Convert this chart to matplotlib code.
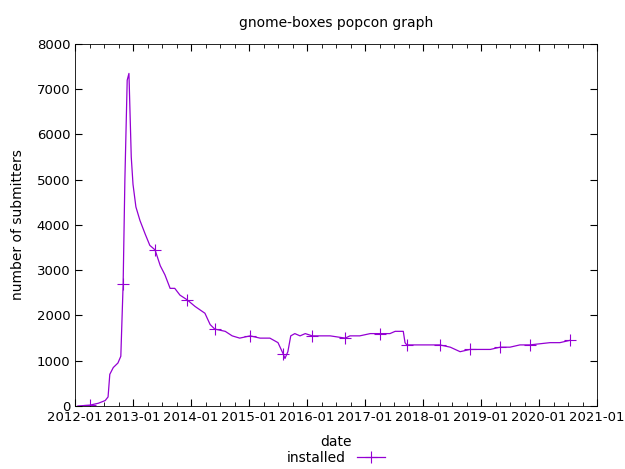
import matplotlib
matplotlib.use("Agg")
import matplotlib.pyplot as plt
import numpy as np

# fractional year, number of submitters
years = [2012.05, 2012.26, 2012.40, 2012.52, 2012.57, 2012.60, 2012.66, 2012.74, 2012.79,
         2012.83, 2012.86, 2012.90, 2012.93, 2012.97, 2013.00, 2013.05, 2013.12, 2013.21,
         2013.29, 2013.38, 2013.47, 2013.55, 2013.64, 2013.72, 2013.81, 2013.93, 2014.07,
         2014.24, 2014.33, 2014.41, 2014.59, 2014.71, 2014.84, 2015.02, 2015.19, 2015.36,
         2015.50, 2015.59, 2015.62, 2015.67, 2015.72, 2015.79, 2015.88, 2015.97, 2016.09,
         2016.22, 2016.40, 2016.66, 2016.74, 2016.91, 2017.09, 2017.26, 2017.43, 2017.52,
         2017.66, 2017.69, 2017.72, 2017.95, 2018.29, 2018.47, 2018.64, 2018.81, 2019.16,
         2019.33, 2019.50, 2019.67, 2019.84, 2020.19, 2020.36, 2020.53]
installed = [0, 20, 60, 120, 200, 700, 850, 950, 1100,
             2700, 5000, 7200, 7350, 5500, 4900, 4400, 4100, 3800,
             3550, 3450, 3100, 2900, 2600, 2600, 2450, 2350, 2200,
             2050, 1800, 1700, 1650, 1550, 1500, 1550, 1500, 1500,
             1400, 1150, 1050, 1200, 1550, 1600, 1550, 1600, 1550,
             1550, 1550, 1500, 1550, 1550, 1600, 1600, 1600, 1650,
             1650, 1400, 1350, 1350, 1350, 1300, 1200, 1250, 1250,
             1300, 1300, 1350, 1350, 1400, 1400, 1450]
# which samples carry a "+" point
marked = [1, 9, 19, 25, 29, 33, 37, 44, 47, 51, 56, 58, 61, 63, 66, 69]

tick_years = list(range(2012, 2022))
tick_labels = [f"{y}-01" for y in tick_years]

purple = "#9400D3"
fig = plt.figure(figsize=(6.25, 4.69), dpi=100)
ax = fig.add_axes([75/625, 1-406/469, 522/625, 362/469])
ax.plot(years, installed, color=purple, lw=0.9, marker="+", ms=9, mew=0.8,
        markevery=marked, label="installed")
ax.set_xlim(2012, 2021)
ax.set_ylim(0, 8000)
ax.set_xticks(tick_years)
ax.set_xticklabels(tick_labels)
ax.set_xticks(np.arange(2012, 2021, 0.25), minor=True)
ax.set_yticks(range(0, 8001, 1000))
ax.tick_params(which="both", direction="in", top=True, right=True, labelsize=9.5)
ax.tick_params(which="major", length=5)
ax.tick_params(which="minor", length=3)
for s in ax.spines.values():
    s.set_linewidth(0.6)
ax.set_title("gnome-boxes popcon graph", fontsize=10, pad=12)
ax.set_ylabel("number of submitters", fontsize=10, labelpad=8)
ax.set_xlabel("date", fontsize=10, labelpad=14)
ax.xaxis.set_label_coords(0.5, -0.08)
ax.legend(loc="upper center", bbox_to_anchor=(0.5, -0.125), frameon=False,
          fontsize=10, markerfirst=False, handlelength=2, borderaxespad=0,
          borderpad=0)
fig.savefig("out.png", dpi=100)
